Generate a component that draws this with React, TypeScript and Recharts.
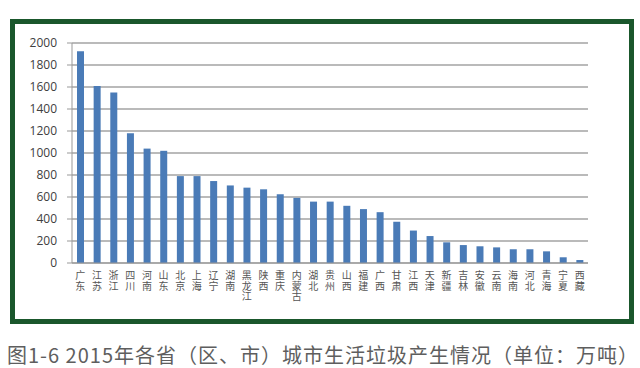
import { BarChart, Bar, XAxis, YAxis, CartesianGrid } from "recharts";

const provinces = [
  "广东", "江苏", "浙江", "四川", "河南", "山东", "北京", "上海", "辽宁", "湖南",
  "黑龙江", "陕西", "重庆", "内蒙古", "湖北", "贵州", "山西", "福建", "广西", "甘肃",
  "江西", "天津", "新疆", "吉林", "安徽", "云南", "海南", "河北", "青海", "宁夏", "西藏",
];

// 万吨
const waste = [
  1925, 1610, 1550, 1180, 1040, 1020, 790, 790, 745, 705,
  685, 670, 625, 592, 558, 558, 520, 490, 462, 375,
  295, 245, 188, 163, 152, 142, 125, 125, 106, 52, 27,
];

const yTicks = [0, 200, 400, 600, 800, 1000, 1200, 1400, 1600, 1800, 2000];

const caption = "图1-6 2015年各省（区、市）城市生活垃圾产生情况（单位：万吨）";

const data = provinces.map((name, i) => ({ name, value: waste[i] }));

function VerticalTick({ x, y, payload }: any) {
  const chars = Array.from(String(payload.value));
  return (
    <text
      x={x}
      y={y}
      textAnchor="middle"
      fontSize={10}
      fill="#555"
      fontFamily="Noto Sans CJK SC"
    >
      {chars.map((c, i) => (
        <tspan key={i} x={x} dy={i === 0 ? 8 : 10.5}>
          {c}
        </tspan>
      ))}
    </text>
  );
}

export default function App() {
  return (
    <div
      style={{
        position: "absolute",
        left: 0,
        top: 0,
        width: 640,
        height: 368,
        background: "#fff",
        overflow: "hidden",
      }}
    >
      <div
        style={{
          position: "absolute",
          left: 10,
          top: 19,
          width: 624,
          height: 305,
          border: "5px solid #1a572c",
          boxSizing: "border-box",
        }}
      />
      <div style={{ position: "absolute", left: 0, top: 0 }}>
        <BarChart
          width={640}
          height={310}
          data={data}
          margin={{ top: 43, right: 52, bottom: 17, left: 12 }}
          barSize={7}
        >
          <CartesianGrid vertical={false} stroke="#a3a3a3" strokeWidth={1.3} />
          <XAxis
            dataKey="name"
            interval={0}
            height={30}
            axisLine={{ stroke: "#999" }}
            tickLine={false}
            tick={<VerticalTick />}
          />
          <YAxis
            width={60}
            domain={[0, 2000]}
            ticks={yTicks}
            interval={0}
            axisLine={{ stroke: "#999" }}
            tickLine={{ stroke: "#999" }}
            tickSize={5}
            tickMargin={10}
            tick={{ fontSize: 12, fill: "#404040", fontFamily: "Open Sans" }}
          />
          <Bar dataKey="value" fill="#4a7bb7" isAnimationActive={false} />
        </BarChart>
      </div>
      <div
        style={{
          position: "absolute",
          left: 7,
          top: 344,
          fontSize: 20,
          lineHeight: "22px",
          letterSpacing: 1,
          color: "#5e5e5e",
          fontFamily: "Noto Sans CJK SC",
          whiteSpace: "nowrap",
        }}
      >
        {caption}
      </div>
    </div>
  );
}
